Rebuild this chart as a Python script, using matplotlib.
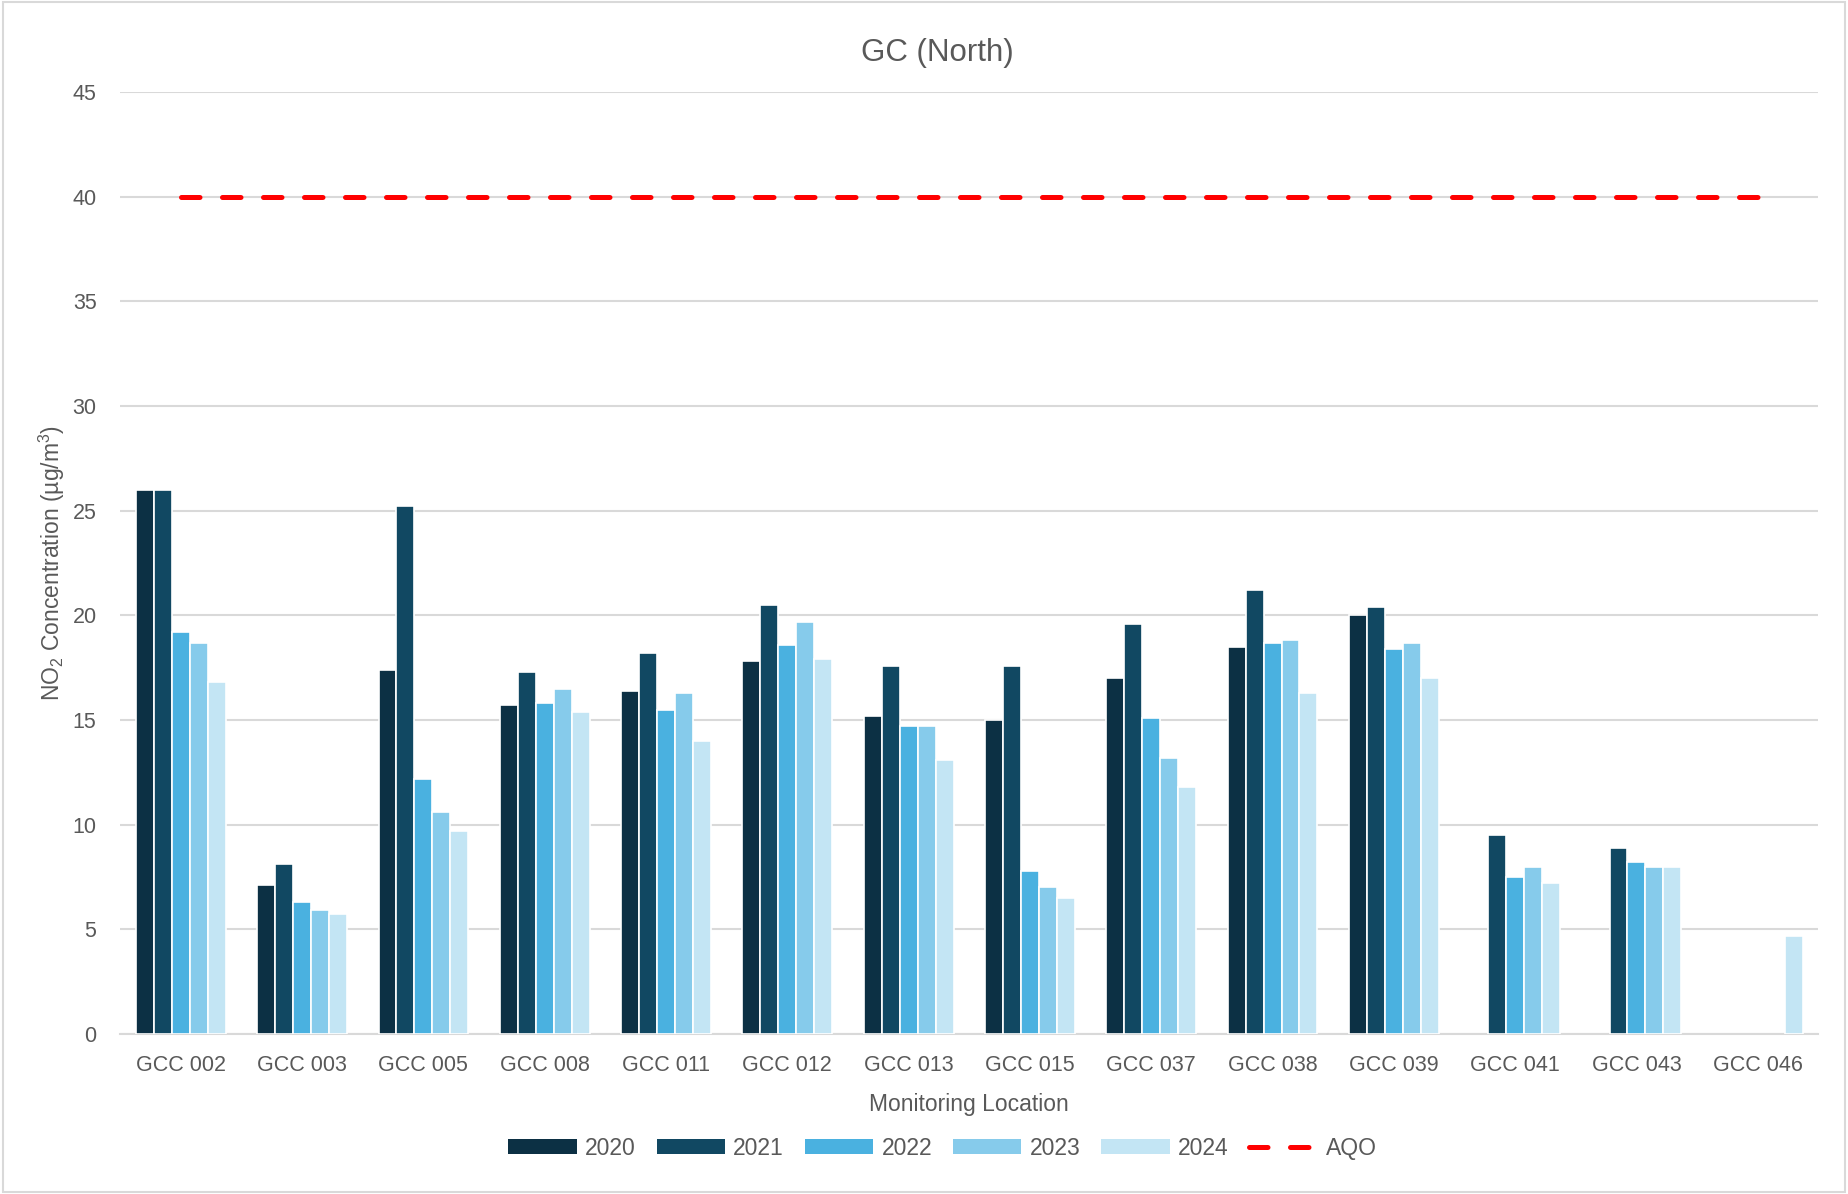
import numpy as np
import matplotlib
matplotlib.use("Agg")
import matplotlib.pyplot as plt
from matplotlib.lines import Line2D
from matplotlib.patches import Patch, Rectangle

plt.rcParams["font.family"] = ["Liberation Sans", "DejaVu Sans"]
plt.rcParams["mathtext.fontset"] = "custom"
plt.rcParams["mathtext.rm"] = "Liberation Sans"
plt.rcParams["mathtext.it"] = "Liberation Sans"

TEXT = "#595959"
GRID = "#d9d9d9"

locations = ["GCC 002", "GCC 003", "GCC 005", "GCC 008", "GCC 011", "GCC 012", "GCC 013",
             "GCC 015", "GCC 037", "GCC 038", "GCC 039", "GCC 041", "GCC 043", "GCC 046"]
years = ["2020", "2021", "2022", "2023", "2024"]
nan = np.nan
v2020 = [26.0, 7.1, 17.4, 15.7, 16.4, 17.8, 15.2, 15.0, 17.0, 18.5, 20.0, nan, nan, nan]
v2021 = [26.0, 8.1, 25.2, 17.3, 18.2, 20.5, 17.6, 17.6, 19.6, 21.2, 20.4, 9.5, 8.9, nan]
v2022 = [19.2, 6.3, 12.2, 15.8, 15.5, 18.6, 14.7, 7.8, 15.1, 18.7, 18.4, 7.5, 8.2, nan]
v2023 = [18.7, 5.9, 10.6, 16.5, 16.3, 19.7, 14.7, 7.0, 13.2, 18.8, 18.7, 8.0, 8.0, nan]
v2024 = [16.8, 5.75, 9.7, 15.4, 14.0, 17.9, 13.1, 6.5, 11.8, 16.3, 17.0, 7.2, 8.0, 4.7]
aqo = 40
colors = ["#0c3044", "#114862", "#4ab1e0", "#86cbeb", "#c3e5f4"]
AQO_DASH = (3.7, 4.5)

fig = plt.figure(figsize=(18.48, 11.94), dpi=100)
ax = fig.add_axes([0.065, 0.134, 0.919, 0.789])

x = np.arange(len(locations))
slot = 0.148
series = [v2020, v2021, v2022, v2023, v2024]
for i, (vals, c) in enumerate(zip(series, colors)):
    ax.bar(x + (i - 2) * slot, vals, width=slot, color=c, edgecolor="white",
           linewidth=1.2, zorder=3, label=years[i])

ax.plot([x[0], x[-1]], [aqo, aqo], color="#ff0000", lw=3.6,
        dashes=AQO_DASH, dash_capstyle="round", zorder=4, label="AQO")

ax.set_xlim(-0.5, len(locations) - 0.5)
ax.set_ylim(0, 45)
ax.set_yticks(np.arange(0, 46, 5))
ax.set_xticks(x)
ax.set_xticklabels(locations)
ax.yaxis.grid(True, color=GRID, lw=1.5, zorder=0)
ax.tick_params(length=0, labelsize=15.5, colors=TEXT)
ax.tick_params(axis="x", pad=15)
ax.tick_params(axis="y", pad=17)
for s in ["top", "right", "left"]:
    ax.spines[s].set_visible(False)
ax.spines["bottom"].set_color(GRID)
ax.spines["bottom"].set_linewidth(1.5)

fig.text(0.507, 0.956, "GC (North)", fontsize=22.5, color=TEXT, ha="center", va="center")
ax.set_xlabel("Monitoring Location", fontsize=16.5, color=TEXT, labelpad=12)
ax.set_ylabel("NO$_2$ Concentration (µg/m$^3$)", fontsize=16.5, color=TEXT, labelpad=4)

handles = [Patch(facecolor=c) for c in colors]
handles.append(Line2D([0], [0], color="#ff0000", lw=3.6, dashes=AQO_DASH,
                      dash_capstyle="round"))
fig.legend(handles, years + ["AQO"], loc="center", bbox_to_anchor=(0.51, 0.0385),
           ncol=6, frameon=False, fontsize=16.5, labelcolor=TEXT,
           handlelength=3.0, handleheight=0.6, columnspacing=0.9, handletextpad=0.35)

fig.patches.append(Rectangle((0.0015, 0.002), 0.997, 0.996, transform=fig.transFigure,
                             fill=False, edgecolor="#d9d9d9", lw=1.5))

fig.savefig("out.png", dpi=100, facecolor="white")
